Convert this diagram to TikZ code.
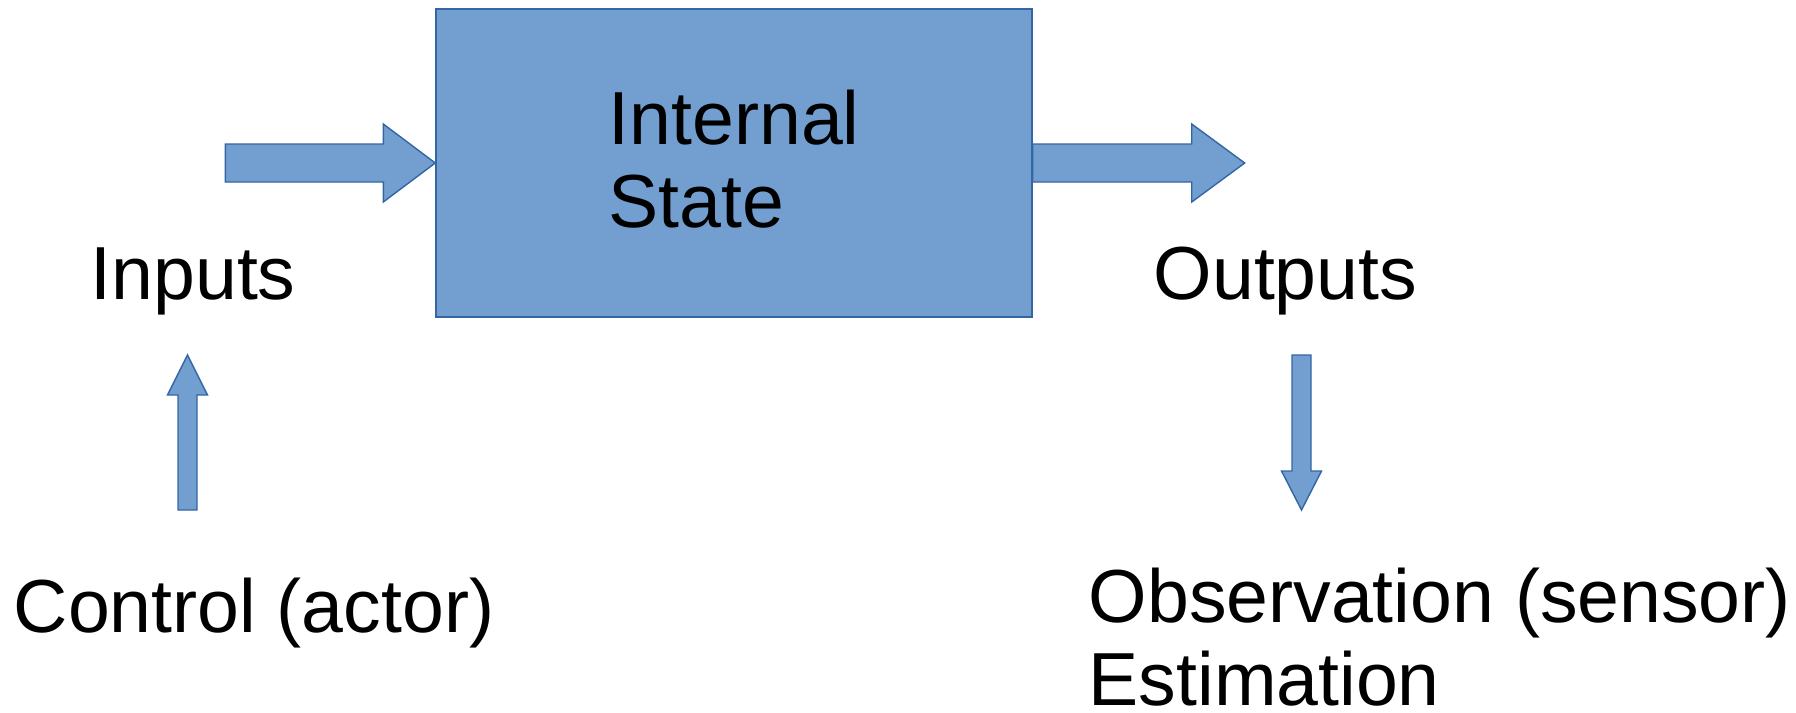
\documentclass[tikz,border=0pt]{standalone}
\usepackage{fontspec}
\setmainfont{Liberation Sans}
\usepackage{xcolor}
\usepackage{tikz}
\usetikzlibrary{calc}
\definecolor{boxfill}{HTML}{729FCF}
\definecolor{boxline}{HTML}{3465A4}
\tikzset{
  blockarrow/.style={fill=boxfill,draw=boxline,line width=0.4pt,line join=miter},
  label/.style={anchor=base west,inner sep=0pt,font=\fontsize{21.4}{23.4}\selectfont,align=left}
}

\begin{document}
\begin{tikzpicture}
  \useasboundingbox (0,0) rectangle (17.96,7.12);
  % system block
  \node[fill=boxfill,draw=boxline,line width=0.4pt,minimum width=5.96cm,minimum height=3.08cm,inner sep=0pt] (state) at (7.34,5.49) {};
  \node[label] (statetxt) at (6.08,4.85) {Internal\\State};
  % labels
  \node[label] (inputs) at (0.90,4.13) {Inputs};
  \node[label] (outputs) at (11.53,4.13) {Outputs};
  \node[label] (control) at (0.13,0.80) {Control (actor)};
  \node[label] (observe) at (10.88,0.07) {Observation (sensor)\\Estimation};
  % arrow tips
  \coordinate (uptip) at (1.875,3.57);
  \coordinate (downtop) at (13.015,3.57);
  % input arrow
  \draw[blockarrow] (state.west) -- ++(-0.52,0.39) -- ++(0,-0.20) -- ++(-1.58,0)
    -- ++(0,-0.38) -- ++(1.58,0) -- ++(0,-0.20) -- cycle;
  % output arrow
  \draw[blockarrow] ($(state.east)+(0,0.19)$) -- ++(1.59,0) -- ++(0,0.20) -- ++(0.53,-0.39)
    -- ++(-0.53,-0.39) -- ++(0,0.20) -- ++(-1.59,0) -- cycle;
  % control arrow
  \draw[blockarrow] (uptip) -- ++(0.20,-0.40) -- ++(-0.105,0) -- ++(0,-1.15)
    -- ++(-0.19,0) -- ++(0,1.15) -- ++(-0.105,0) -- cycle;
  % observation arrow
  \draw[blockarrow] ($(downtop)+(-0.095,0)$) -- ++(0.19,0) -- ++(0,-1.16) -- ++(0.105,0)
    -- ++(-0.20,-0.39) -- ++(-0.20,0.39) -- ++(0.105,0) -- cycle;
\end{tikzpicture}
\end{document}
